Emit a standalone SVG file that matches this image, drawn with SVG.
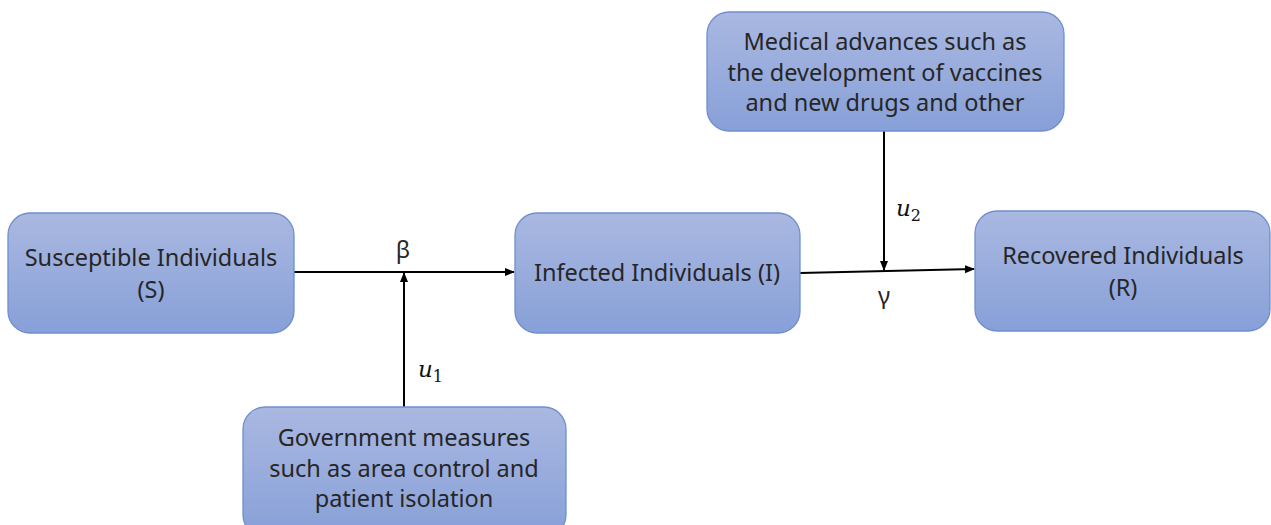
<svg xmlns="http://www.w3.org/2000/svg" width="1271" height="525" viewBox="0 0 1271 525">
<defs>
<linearGradient id="g" x1="0" y1="0" x2="0" y2="1">
<stop offset="0" stop-color="#aab8e1"/>
<stop offset="1" stop-color="#87a0d8"/>
</linearGradient>
<marker id="ah" viewBox="0 0 10 10" refX="9" refY="5" markerWidth="10" markerHeight="10" markerUnits="userSpaceOnUse" orient="auto">
<path d="M0,1 L10,5 L0,9 z" fill="#000"/>
</marker>
<style>
.box{fill:url(#g);stroke:#6f8fcf;stroke-width:1.3}
.t{font-family:"Noto Sans","Open Sans","DejaVu Sans",sans-serif;font-size:23.5px;fill:#262626;text-anchor:middle}
.m{font-family:"DejaVu Serif","Liberation Serif",serif;font-size:23px;fill:#111}
.c{stroke:#000;stroke-width:2;fill:none}
</style>
</defs>
<rect width="1271" height="525" fill="#fff"/>
<g id="connectors">
<line class="c" x1="294" y1="272" x2="514" y2="272" marker-end="url(#ah)"/>
<line class="c" x1="404" y1="407" x2="404" y2="273" marker-end="url(#ah)"/>
<line class="c" x1="800" y1="273" x2="974" y2="269" marker-end="url(#ah)"/>
<line class="c" x1="884" y1="131" x2="884" y2="270" marker-end="url(#ah)"/>
<text class="t" x="403" y="258">β</text>
<text class="t" x="884" y="304">γ</text>
<text class="m" x="418" y="377" font-style="italic">u<tspan font-size="16" font-style="normal" dy="5">1</tspan></text>
<text class="m" x="896" y="216" font-style="italic">u<tspan font-size="16" font-style="normal" dy="5">2</tspan></text>
</g>
<g id="node-S">
<rect class="box" x="8" y="213" width="286" height="120" rx="22"/>
<text class="t" x="151" y="266">Susceptible Individuals</text>
<text class="t" x="151" y="298">(S)</text>
</g>
<g id="node-I">
<rect class="box" x="515" y="213" width="285" height="120" rx="22"/>
<text class="t" x="657" y="281">Infected Individuals (I)</text>
</g>
<g id="node-R">
<rect class="box" x="975" y="211" width="295" height="120" rx="22"/>
<text class="t" x="1123" y="264">Recovered Individuals</text>
<text class="t" x="1123" y="296">(R)</text>
</g>
<g id="node-medical">
<rect class="box" x="707" y="12" width="357" height="119" rx="22"/>
<text class="t" x="885" y="50">Medical advances such as</text>
<text class="t" x="885" y="81">the development of vaccines</text>
<text class="t" x="885" y="111">and new drugs and other</text>
</g>
<g id="node-government">
<rect class="box" x="243" y="407" width="323" height="130" rx="22"/>
<text class="t" x="404" y="446">Government measures</text>
<text class="t" x="404" y="477">such as area control and</text>
<text class="t" x="404" y="507">patient isolation</text>
</g>
</svg>
